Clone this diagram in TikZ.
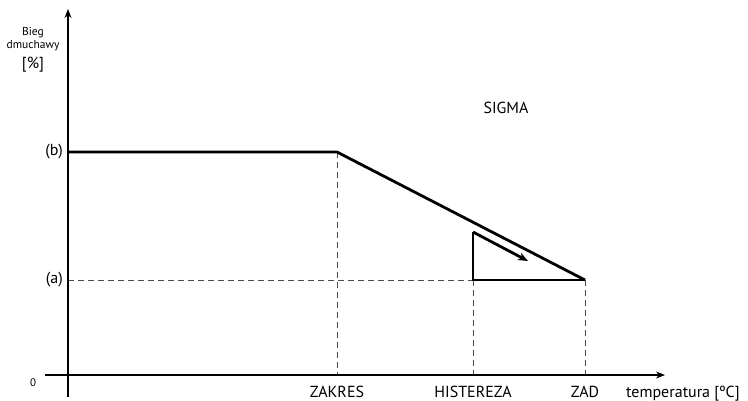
\documentclass[tikz,border=0pt]{standalone}
\usepackage{fontspec}
\setmainfont{PT Sans}
\usetikzlibrary{arrows.meta}

\begin{document}
\begin{tikzpicture}[x=1bp,y=-1bp,
    axis/.style={line width=1.1bp,-{Stealth[length=9bp,width=7bp]}},
    curve/.style={line width=2.8bp},
    guide/.style={line width=0.9bp,dash pattern=on 6bp off 4bp,black!70},
    lbl/.style={inner sep=0pt,font=\fontsize{16bp}{18bp}\selectfont},
    small/.style={inner sep=0pt,font=\fontsize{11.5bp}{13bp}\selectfont}]
	\useasboundingbox (0,0) rectangle (748,400);
	
	% points of the curve
	\coordinate (b) at (68,152);
	\coordinate (zakres) at (337,152);
	\coordinate (zad) at (585,280);
	\coordinate (a) at (68,280);
	\coordinate (hist) at (473,280);
	\coordinate (top) at (473,232);
	\coordinate (tip) at (528,261);
	
	% guides
	\draw[guide] (a) -- (hist);
	\draw[guide] (zakres) -- (337,375);
	\draw[guide] (hist) -- (473,375);
	\draw[guide] (zad) -- (585,375);
	
	% axes
	\draw[axis] (45,375) -- (665,375);
	\draw[axis] (68,397) -- (68,9);
	
	% curve
	\draw[curve] (b) -- (zakres) -- (zad);
	\draw[curve,line join=miter] (top) -- (hist) -- (zad);
	\draw[curve,-{Stealth[length=10bp,width=8bp]}] (top) -- (tip);
	
	% labels
	\node[small,anchor=base] (bieg) at (33,35) {Bieg};
	\node[small,anchor=base] (dm) at (33,48) {dmuchawy};
	\node[lbl,anchor=base] (pct) at (33,68) {[\%]};
	\node[inner sep=0pt,font=\fontsize{11bp}{12bp}\selectfont,anchor=base] (zero) at (33,386) {0};
	\node[lbl,anchor=east] (lb) at (63,152) {(b)};
	\node[lbl,anchor=east] (la) at (63,280) {(a)};
	\node[lbl,anchor=base] (sigma) at (506,113) {SIGMA};
	\node[lbl,anchor=base] (lzakres) at (337,397) {ZAKRES};
	\node[lbl,anchor=base] (lhist) at (473,397) {HISTEREZA};
	\node[lbl,anchor=base] (lzad) at (585,397) {ZAD};
	\node[lbl,anchor=base west] (temp) at (626,397) {temperatura [ºC]};
\end{tikzpicture}
\end{document}
